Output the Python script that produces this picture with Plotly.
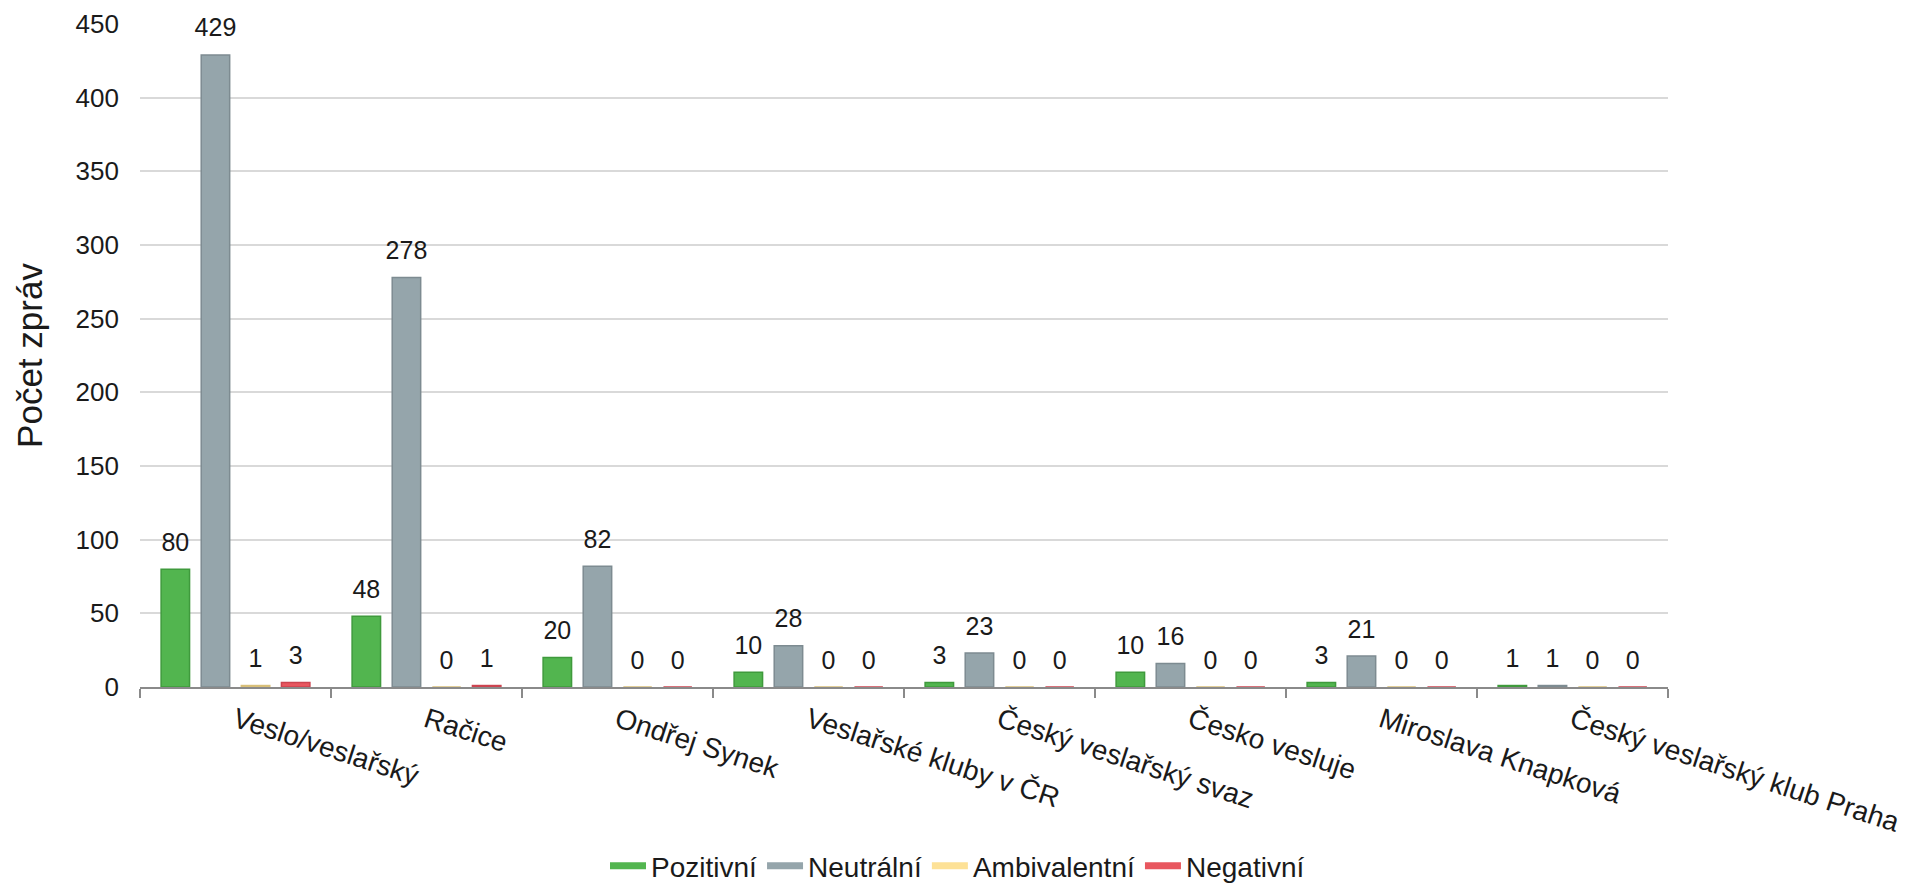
import plotly.graph_objects as go

categories = [
    "Veslo/veslařský",
    "Račice",
    "Ondřej Synek",
    "Veslařské kluby v ČR",
    "Český veslařský svaz",
    "Česko vesluje",
    "Miroslava Knapková",
    "Český veslařský klub Praha",
]
pozitivni = [80, 48, 20, 10, 3, 10, 3, 1]
neutralni = [429, 278, 82, 28, 23, 16, 21, 1]
ambivalentni = [1, 0, 0, 0, 0, 0, 0, 0]
negativni = [3, 1, 0, 0, 0, 0, 0, 0]

series_names = ["Pozitivní", "Neutrální", "Ambivalentní", "Negativní"]
series_values = [pozitivni, neutralni, ambivalentni, negativni]
fill_colors = ["#52b54f", "#95a5ab", "#fde196", "#e8575f"]
border_colors = ["#3f9a3c", "#7d8b91", "#d8bf78", "#cc4450"]

y_ticks = [0, 50, 100, 150, 200, 250, 300, 350, 400, 450]

FONT = "Liberation Sans, Arial, Helvetica, sans-serif"
TXT = "#1a1a1a"

fig = go.Figure()

# bars
for name, vals, fc, bc in zip(series_names, series_values, fill_colors, border_colors):
    fig.add_trace(go.Bar(
        x=categories, y=vals, name=name,
        marker=dict(color=fc, line=dict(color=bc, width=1.5)),
        showlegend=False, hoverinfo="x+y+name",
    ))

# data labels (grouped scatter aligned with bars)
for name, vals in zip(series_names, series_values):
    fig.add_trace(go.Scatter(
        x=categories, y=vals, mode="markers+text",
        text=[str(v) for v in vals], textposition="top center",
        textfont=dict(size=25, color=TXT, family=FONT),
        marker=dict(size=18, opacity=0),
        showlegend=False, hoverinfo="skip", cliponaxis=False,
    ))

# legend entries (line symbols)
for name, fc in zip(series_names, fill_colors):
    fig.add_trace(go.Scatter(
        x=[None], y=[None], mode="lines", name=name,
        line=dict(color=fc, width=7),
        xaxis="x2", yaxis="y2", showlegend=True,
    ))

# the page body adds an 8px offset; size and margins compensate for it
fig.update_layout(
    width=1899, height=876,
    margin=dict(l=132, r=239, t=16, b=197, autoexpand=False),
    paper_bgcolor="white", plot_bgcolor="white",
    font=dict(family=FONT, color=TXT),
    barmode="group", bargap=0.16, bargroupgap=0.29,
    scattermode="group", scattergap=0.16,
    showlegend=True,
    legend=dict(
        orientation="h", xref="container", yref="container",
        x=0.5, xanchor="center", y=0.0205, yanchor="middle",
        font=dict(size=28, color=TXT, family=FONT),
        itemwidth=36, traceorder="normal",
    ),
    xaxis=dict(
        type="category", categoryorder="array", categoryarray=categories,
        showline=True, linecolor="#8a8a8a", linewidth=2,
        ticks="outside", tickson="boundaries", ticklen=9, tickwidth=2, tickcolor="#8a8a8a",
        tickangle=18, ticklabelstandoff=4,
        tickfont=dict(size=28, color=TXT, family=FONT),
        showgrid=False, zeroline=False, automargin=False,
    ),
    yaxis=dict(
        range=[0, 450], tickvals=y_ticks, ticktext=[str(v) for v in y_ticks],
        showgrid=True, gridcolor="#d9d9d9", gridwidth=2,
        showline=False, zeroline=False, ticks="",
        ticklabelstandoff=20,
        tickfont=dict(size=26, color=TXT, family=FONT),
        title=dict(text="Počet zpráv", font=dict(size=35, color=TXT, family=FONT), standoff=22),
        automargin=False,
    ),
    xaxis2=dict(overlaying="x", visible=False, range=[0, 1]),
    yaxis2=dict(overlaying="y", visible=False, range=[0, 1]),
)

fig.write_html("out.html")
